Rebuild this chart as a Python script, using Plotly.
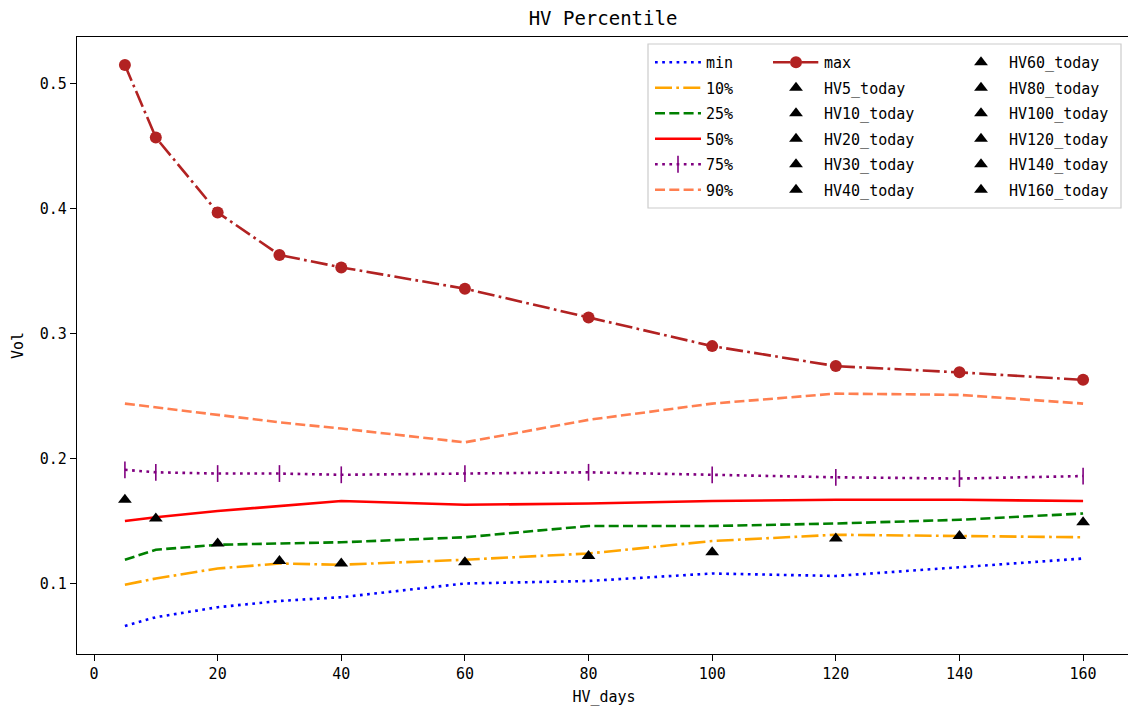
import plotly.graph_objects as go

days = [5, 10, 20, 30, 40, 60, 80, 100, 120, 140, 160]

p_min = [0.066, 0.073, 0.081, 0.086, 0.089, 0.100, 0.102, 0.108, 0.106, 0.113, 0.120]
p_10 = [0.099, 0.104, 0.112, 0.116, 0.115, 0.119, 0.124, 0.134, 0.139, 0.138, 0.137]
p_25 = [0.119, 0.127, 0.131, 0.132, 0.133, 0.137, 0.146, 0.146, 0.148, 0.151, 0.156]
p_50 = [0.150, 0.153, 0.158, 0.162, 0.166, 0.163, 0.164, 0.166, 0.167, 0.167, 0.166]
p_75 = [0.191, 0.189, 0.188, 0.188, 0.187, 0.188, 0.189, 0.187, 0.185, 0.184, 0.186]
p_90 = [0.244, 0.241, 0.235, 0.229, 0.224, 0.213, 0.231, 0.244, 0.252, 0.251, 0.244]
p_max = [0.515, 0.457, 0.397, 0.363, 0.353, 0.336, 0.313, 0.290, 0.274, 0.269, 0.263]
hv_today = [0.167, 0.152, 0.132, 0.118, 0.116, 0.117, 0.122, 0.125, 0.136, 0.138, 0.149]
today_names = ["HV%d_today" % d for d in days]

FONT = "DejaVu Sans Mono"
W, H = 1136, 712   # page viewport is 1128 wide; the far right is clipped like the reference
# plot area in screen pixels
L, R, T, B = 77, 1131, 37, 654

def px_x(p):
    return (p - L) / (R - L)

def px_y(p):
    return (B - p) / (B - T)

def cx(p):
    return p / W

def cy(p):
    return 1 - p / H

fig = go.Figure()

def add_line(name, y, color, dash, legend, group, marker=None, mode="lines"):
    kw = dict(x=days, y=y, name=name, mode=mode, legend=legend, legendgroup=group,
              line=dict(color=color, width=2.6, dash=dash))
    if marker is not None:
        kw["marker"] = marker
    fig.add_trace(go.Scatter(**kw))

dot = "2.7px,4.5px"
dashed = "10px,4.3px"
dashdot = "17px,4.3px,2.7px,4.3px"

add_line("min", p_min, "blue", dot, "legend", "g1")
add_line("10%", p_10, "orange", dashdot, "legend", "g2")
add_line("25%", p_25, "green", dashed, "legend", "g3")
add_line("50%", p_50, "red", "solid", "legend", "g4")
add_line("75%", p_75, "purple", dot, "legend", "g5",
         marker=dict(symbol="line-ns", size=12, color="purple",
                     line=dict(color="purple", width=1.6)),
         mode="lines+markers")
add_line("90%", p_90, "coral", dashed, "legend", "g6")
add_line("max", p_max, "firebrick", dashdot, "legend2", "g7",
         marker=dict(symbol="circle", size=12, color="firebrick"),
         mode="lines+markers")

for i, (d, v, nm) in enumerate(zip(days, hv_today, today_names)):
    leg = "legend2" if i < 5 else "legend3"
    fig.add_trace(go.Scatter(x=[d], y=[v], name=nm, mode="markers",
                             legend=leg, legendgroup="t%d" % i,
                             marker=dict(symbol="triangle-up", size=12, color="black")))

all_y = p_min + p_max + hv_today
ymin, ymax = min(all_y), max(all_y)
yspan = ymax - ymin
xspan = max(days) - min(days)

axis_common = dict(showline=True, linecolor="black", linewidth=1.3, mirror=True,
                   ticks="outside", ticklen=6, tickwidth=1.3, tickcolor="black",
                   showgrid=False, zeroline=False,
                   tickfont=dict(family=FONT, size=15, color="black"))

leg_common = dict(font=dict(family=FONT, size=15, color="black"),
                  bgcolor="rgba(0,0,0,0)", borderwidth=0, itemwidth=46,
                  tracegroupgap=3, traceorder="grouped",
                  xref="container", yref="container",
                  xanchor="left", yanchor="top", itemclick=False)

fig.update_layout(
    width=W, height=H,
    margin=dict(l=L, r=W - R, t=T, b=H - B, autoexpand=False),
    paper_bgcolor="white", plot_bgcolor="white",
    title=dict(text="HV Percentile", x=cx(603), xref="container", xanchor="center",
               y=1 - 18 / H, yanchor="middle",
               font=dict(family=FONT, size=19, color="black")),
    xaxis=dict(axis_common, range=[min(days) - 0.05 * xspan, max(days) + 0.05 * xspan],
               tickvals=[0, 20, 40, 60, 80, 100, 120, 140, 160],
               title=dict(text="HV_days", font=dict(family=FONT, size=15, color="black"),
                          standoff=9)),
    yaxis=dict(axis_common, range=[ymin - 0.05 * yspan, ymax + 0.05 * yspan],
               tickvals=[0.1, 0.2, 0.3, 0.4, 0.5], ticktext=["0.1", "0.2", "0.3", "0.4", "0.5"],
               title=dict(text="Vol", font=dict(family=FONT, size=15, color="black"),
                          standoff=12)),
    legend=dict(leg_common, x=cx(650), y=cy(46)),
    legend2=dict(leg_common, x=cx(768), y=cy(46)),
    legend3=dict(leg_common, x=cx(953), y=cy(46)),
    shapes=[dict(type="rect", xref="paper", yref="paper",
                 x0=px_x(648), x1=px_x(1121), y0=px_y(208), y1=px_y(44),
                 line=dict(color="#cccccc", width=1.2),
                 fillcolor="rgba(255,255,255,0.8)", layer="above")],
)

fig.write_html("out.html", config={"displayModeBar": False},
               post_script="document.body.style.margin='0';document.body.style.overflow='hidden';")
